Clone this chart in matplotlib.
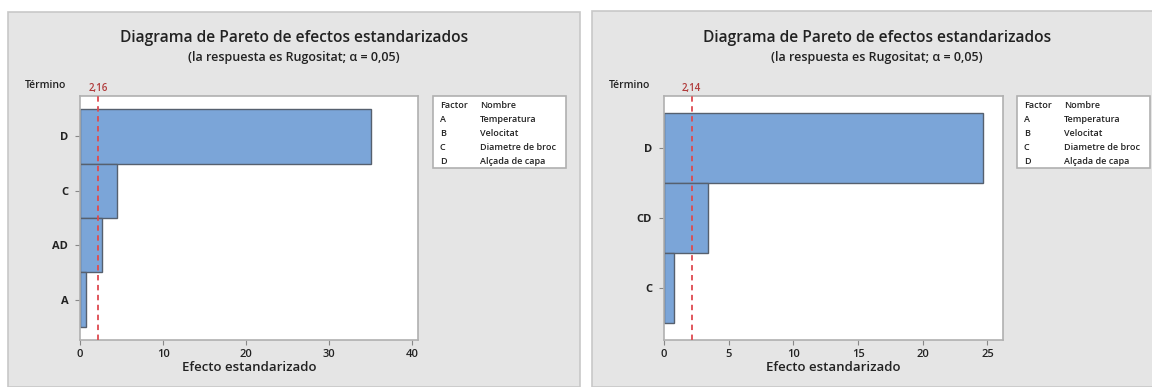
import matplotlib
matplotlib.use("Agg")
import matplotlib.pyplot as plt
from matplotlib.patches import Rectangle

plt.rcParams['font.family'] = ['Open Sans', 'DejaVu Sans']

# Left model: terms and standardized effects
terms_left = ["D", "C", "AD", "A"]
effects_left = [35.0, 4.4, 2.6, 0.7]
crit_left = 2.16
xticks_left = [0, 10, 20, 30, 40]
xmax_left = 40.7

# Right model: terms and standardized effects
terms_right = ["D", "CD", "C"]
effects_right = [24.65, 3.4, 0.78]
crit_right = 2.14
xticks_right = [0, 5, 10, 15, 20, 25]
xmax_right = 26.2

factor_codes = ["A", "B", "C", "D"]
factor_names = ["Temperatura", "Velocitat", "Diametre de broc", "Alçada de capa"]

title = "Diagrama de Pareto de efectos estandarizados"
subtitle = "(la respuesta es Rugositat; α = 0,05)"

W, H = 1152, 387
fig = plt.figure(figsize=(W / 100, H / 100), dpi=100)
fig.patch.set_facecolor("white")

BAR = "#7BA5D8"
EDGE = "#56606E"
PANEL = "#E5E5E5"
TXT = "#222222"
RED = "#DE4A4F"
SEMI = "semibold"


def fx(px):
    return px / W


def fy(py):
    return 1 - py / H


def panel(x0, x1, y0, title_cx, axl, axr, axt, axb, terms, effects, crit, xticks, xmax,
          legx0, legx1, factor_x, name_x):
    fig.patches.append(Rectangle((fx(x0), 0), fx(x1) - fx(x0), fy(y0),
                                 transform=fig.transFigure, facecolor=PANEL,
                                 edgecolor="#C8C8C8", linewidth=1.2, zorder=-5))
    ax = fig.add_axes([fx(axl), fy(axb), fx(axr) - fx(axl), fy(axt) - fy(axb)])
    ax.set_zorder(2)
    n = len(terms)
    ypos = list(range(n))[::-1]
    ax.barh(ypos, effects, height=1.0, color=BAR, edgecolor=EDGE, linewidth=1.0, zorder=2)
    ax.axvline(crit, color=RED, linestyle=(0, (3, 2.5)), linewidth=1.3, zorder=3)
    ax.set_xlim(0, xmax)
    ax.set_ylim(-0.74, n - 1 + 0.74)
    ax.set_yticks(ypos)
    ax.set_yticklabels(terms, fontsize=8, color=TXT, fontweight="bold")
    ax.set_xticks(xticks)
    ax.set_xticklabels([str(t) for t in xticks], fontsize=8, color=TXT, fontweight=SEMI)
    ax.tick_params(axis="both", direction="out", length=3.5, width=0.8, colors="#888888",
                   labelcolor=TXT, pad=3)
    ax.tick_params(axis="y", pad=5)
    for s in ax.spines.values():
        s.set_color("#B0B0B0")
        s.set_linewidth(1.2)
    ax.set_facecolor("white")
    ax.set_xlabel("Efecto estandarizado", fontsize=9.5, color=TXT, fontweight=SEMI, labelpad=1)
    ax.text(crit, 1.01, f"{crit:.2f}".replace(".", ","), transform=ax.get_xaxis_transform(),
            ha="center", va="bottom", fontsize=7, color="#B03A3A", fontweight=SEMI)
    fig.text(fx(axl - 55), fy(85), "Término", fontsize=7.5, color=TXT, ha="left",
             va="center", fontweight=SEMI)
    fig.text(fx(title_cx), fy(38), title, fontsize=11.2, fontweight=SEMI,
             color=TXT, ha="center", va="center")
    fig.text(fx(title_cx), fy(57), subtitle, fontsize=9, fontweight=SEMI,
             color=TXT, ha="center", va="center")
    # factor key
    fig.patches.append(Rectangle((fx(legx0), fy(168)), fx(legx1) - fx(legx0), fy(96) - fy(168),
                                 transform=fig.transFigure, facecolor="white",
                                 edgecolor="#B0B0B0", linewidth=1.2, zorder=1))
    rows_y = [106, 120, 133, 147, 161]
    fig.text(fx(factor_x), fy(rows_y[0]), "Factor", fontsize=6.5, color=TXT, va="center",
             fontweight=SEMI)
    fig.text(fx(name_x), fy(rows_y[0]), "Nombre", fontsize=6.5, color=TXT, va="center",
             fontweight=SEMI)
    for code, name, yy in zip(factor_codes, factor_names, rows_y[1:]):
        fig.text(fx(factor_x), fy(yy), code, fontsize=6.5, color=TXT, va="center",
                 fontweight=SEMI)
        fig.text(fx(name_x), fy(yy), name, fontsize=6.5, color=TXT, va="center",
                 fontweight=SEMI)
    return ax


panel(8, 580, 12, 294, 80, 418, 96, 340, terms_left, effects_left, crit_left,
      xticks_left, xmax_left, 433, 566, 440, 480)
panel(592, 1160, 11, 877, 664, 1003, 96, 340, terms_right, effects_right, crit_right,
      xticks_right, xmax_right, 1017, 1150, 1024, 1064)

fig.savefig("out.png", dpi=100)
